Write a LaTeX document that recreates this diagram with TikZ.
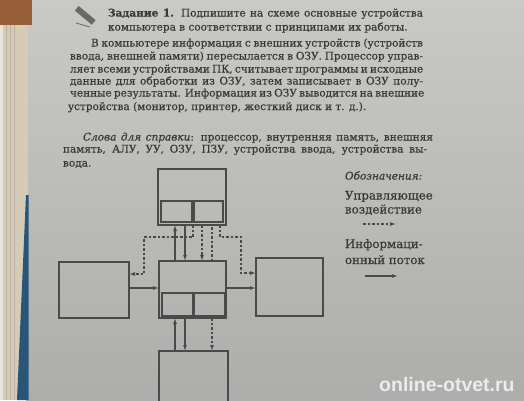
\documentclass[tikz,border=0pt]{standalone}
\usepackage{fontspec}
\setmainfont{DejaVu Serif}[FakeBold=0.5]
\newfontfamily\wmfont{Liberation Sans}
\usetikzlibrary{arrows.meta}
\definecolor{ink}{HTML}{383838}
\definecolor{lineink}{HTML}{4A4A4A}
\definecolor{pagetop}{HTML}{C9C9C5}
\definecolor{pagebot}{HTML}{ADADAB}
\begin{document}
\begin{tikzpicture}[x=1pt,y=-1pt,
  box/.style={draw=lineink,line width=1.1pt,inner sep=0pt,outer sep=0pt},
  txt/.style={inner sep=0pt,outer sep=0pt,text=ink,font=\fontsize{10.5}{12}\selectfont},
  leg/.style={inner sep=0pt,outer sep=0pt,text=ink,font=\fontsize{11.8}{12}\selectfont},
  info/.style={draw=lineink,line width=1.1pt,-{Latex[length=6pt,width=4pt]}},
  ctrl/.style={draw=lineink,line width=1.1pt,dash pattern=on 2.5pt off 2pt,-{Latex[length=6pt,width=4pt]}},
  ctrlnohead/.style={draw=lineink,line width=1.1pt,dash pattern=on 2.5pt off 2pt}]
\useasboundingbox (0,0) rectangle (524,400);
% page and book edge
\shade[top color=pagetop,bottom color=pagebot] (26,0) rectangle (524,400);
\fill[color={rgb,255:red,214;green,203;blue,183}] (0,0) rectangle (28,400);
\fill[color={rgb,255:red,232;green,228;blue,220}] (0,0) rectangle (3,400);
\foreach \xx in {6,10,14} \draw[color={rgb,255:red,190;green,178;blue,158},line width=0.5pt] (\xx,25) -- (\xx,400);
\fill[color={rgb,255:red,150;green,95;blue,55}] (0,0) rectangle (32,25);
\fill[color={rgb,255:red,40;green,85;blue,120}] (26,195) -- (28.5,195) -- (28.5,400) -- (17,400) -- cycle;
% pencil icon
\fill[color={rgb,255:red,105;green,105;blue,105},rotate around={-40:(86,16)}] (74,13) rectangle (96,19);
\draw[color={rgb,255:red,105;green,105;blue,105},line width=0.8pt] (76,23) -- (90,27);
% text
\node[txt,anchor=base west] (t1) at (108,16.5) {\makebox[315pt][s]{\textbf{Задание 1.} Подпишите на схеме основные устройства}};
\node[txt,anchor=base west] (t2) at (108,30.5) {компьютера в соответствии с принципами их работы.};
\node[txt,anchor=base west] (p1) at (91,46.5) {\makebox[332pt][s]{В компьютере информация с внешних устройств (устройств}};
\node[txt,anchor=base west] (p2) at (70,59.5) {\makebox[353pt][s]{ввода, внешней памяти) пересылается в ОЗУ. Процессор управ-}};
\node[txt,anchor=base west] (p3) at (70,72.5) {\makebox[353pt][s]{ляет всеми устройствами ПК, считывает программы и исходные}};
\node[txt,anchor=base west] (p4) at (70,84.5) {\makebox[353pt][s]{данные для обработки из ОЗУ, затем записывает в ОЗУ полу-}};
\node[txt,anchor=base west] (p5) at (70,96.5) {\makebox[353pt][s]{ченные результаты. Информация из ОЗУ выводится на внешние}};
\node[txt,anchor=base west] (p6) at (68,110) {устройства (монитор, принтер, жесткий диск и т. д.).};
\node[txt,anchor=base west] (w1) at (83,140.5) {\makebox[350pt][s]{\textit{Слова для справки}: процессор, внутренняя память, внешняя}};
\node[txt,anchor=base west] (w2) at (63,152.5) {\makebox[364pt][s]{память, АЛУ, УУ, ОЗУ, ПЗУ, устройства ввода, устройства вы-}};
\node[txt,anchor=base west] (w3) at (63,166.5) {вода.};
% boxes
\node[box,minimum width=68pt,minimum height=56pt] (tbox) at (192,197) {};
\node[box,minimum width=31pt,minimum height=21pt] (tboxa) at (176.5,211.5) {};
\node[box,minimum width=29pt,minimum height=21pt] (tboxb) at (208.5,211.5) {};
\node[box,minimum width=67pt,minimum height=57pt] (cbox) at (192.5,289.5) {};
\node[box,minimum width=31pt,minimum height=23pt] (cboxa) at (177.5,304.5) {};
\node[box,minimum width=31pt,minimum height=23pt] (cboxb) at (209.5,304.5) {};
\node[box,minimum width=70pt,minimum height=56pt] (lbox) at (94,290) {};
\node[box,minimum width=67pt,minimum height=58pt] (rbox) at (289.5,287) {};
\node[box,minimum width=69pt,minimum height=60pt,anchor=north] (bbox) at (193.5,351) {};
% reference coordinates
\coordinate (xa) at (175,0);
\coordinate (xb) at (185,0);
\coordinate (xc) at (193,0);
\coordinate (xd) at (202,0);
\coordinate (xe) at (212,0);
\coordinate (xf) at (220,0);
\coordinate (kl) at (144,237);
\coordinate (kr) at (241,237);
\coordinate (yl) at (0,274);
\coordinate (yr) at (0,273);
\coordinate (yi) at (0,288);
% connectors top <-> center
\draw[info] (cbox.north -| xa) -- (tbox.south -| xa);
\draw[info] (tbox.south -| xb) -- (cbox.north -| xb);
\draw[ctrl] (tbox.south -| xc) |- (kl) |- (lbox.east |- yl);
\draw[ctrl] (tbox.south -| xd) -- (cbox.north -| xd);
\draw[ctrlnohead] (cbox.north -| xe) -- (tbox.south -| xe);
\draw[ctrl] (tbox.south -| xf) |- (kr) |- (rbox.west |- yr);
% left/right
\draw[info] (lbox.east |- yi) -- (cbox.west |- yi);
\draw[info] (cbox.east |- yi) -- (rbox.west |- yi);
% center <-> bottom
\draw[info] (bbox.north -| xa) -- (cbox.south -| xa);
\draw[info] (cbox.south -| xb) -- (bbox.north -| xb);
\draw[ctrl] (cbox.south -| xe) -- (bbox.north -| xe);
% legend
\node[txt,anchor=base west] (l0) at (345,179.5) {\textit{Обозначения:}};
\node[leg,anchor=base west] (l1) at (345,199.5) {Управляющее};
\node[leg,anchor=base west] (l2) at (345,213.5) {воздействие};
\coordinate (la1) at (363,224);
\coordinate (la2) at (396,224);
\draw[ctrl] (la1) -- (la2);
\node[leg,anchor=base west] (l3) at (345,248) {Информаци-};
\node[leg,anchor=base west] (l4) at (345,264) {онный поток};
\coordinate (lb1) at (365,276);
\coordinate (lb2) at (398,276);
\draw[info] (lb1) -- (lb2);
% watermark
\node[inner sep=0pt,anchor=base west,text={rgb,255:red,236;green,236;blue,236},font=\wmfont\bfseries\fontsize{19.5}{20}\selectfont] (wm) at (379,391) {online-otvet.ru};
\end{tikzpicture}
\end{document}
